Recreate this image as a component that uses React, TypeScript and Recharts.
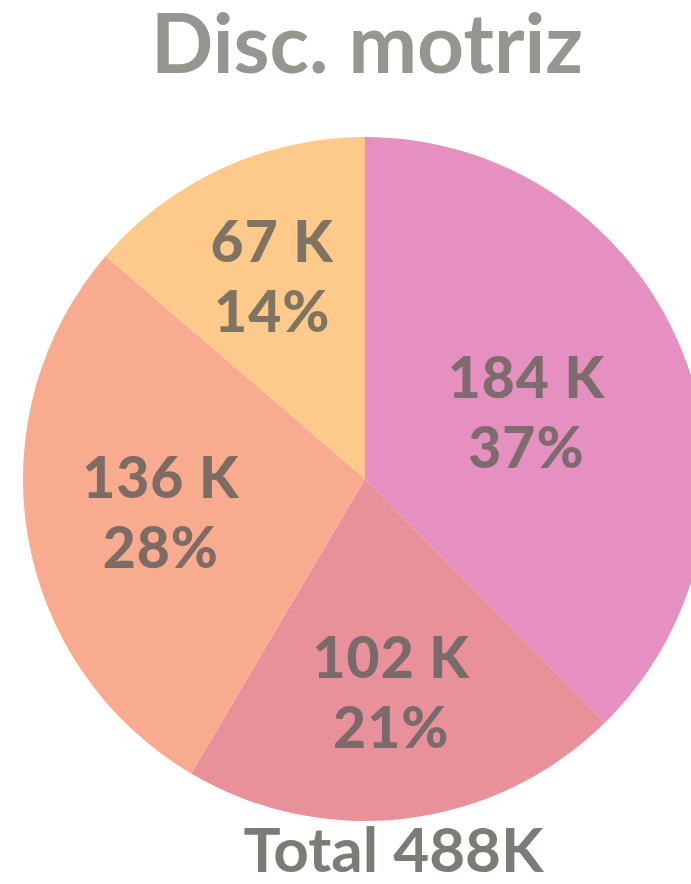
import { Cell, Pie, PieChart } from "recharts"

// Disc. motriz — share of 488K, clockwise from 12 o'clock.
const SEGMENTS = ["184 K", "102 K", "136 K", "67 K"]
const VALUES = [184, 102, 136, 67]
const PERCENTS = ["37%", "21%", "28%", "14%"]
const COLORS = ["#E68FC1", "#E8919B", "#F8AB8E", "#FDCA8B"]
const TEXT_COLORS = ["#7d6b6e", "#7b6a6c", "#7d6c63", "#7f7461"]
// how far out (fraction of radius) each slice's label sits
const LABEL_RADIUS = [0.51, 0.63, 0.605, 0.65]

const TITLE = "Disc. motriz"
const TOTAL = "Total 488K"

const FONT = "Lato, 'DejaVu Sans', sans-serif"
const RAD = Math.PI / 180

const rows = SEGMENTS.map((name, index) => ({
  name,
  value: VALUES[index],
  percent: PERCENTS[index],
}))

function SliceLabel(props: any) {
  const { cx, cy, midAngle, outerRadius, index } = props
  const r = outerRadius * LABEL_RADIUS[index]
  const x = cx + r * Math.cos(-midAngle * RAD)
  const y = cy + r * Math.sin(-midAngle * RAD)
  return (
    <text
      x={x}
      y={y}
      textAnchor="middle"
      fill={TEXT_COLORS[index]}
      fontFamily={FONT}
      fontWeight={900}
      fontSize={57}
      letterSpacing={1}
    >
      <tspan x={x} dy={-15}>
        {rows[index].name}
      </tspan>
      <tspan x={x} dy={70}>
        {rows[index].percent}
      </tspan>
    </text>
  )
}

export default function App() {
  return (
    <div
      style={{
        position: "absolute",
        left: 0,
        top: 0,
        width: 691,
        height: 884,
        overflow: "hidden",
        background: "#fff",
        fontFamily: FONT,
      }}
    >
      <PieChart width={691} height={884} margin={{ top: 0, right: 0, bottom: 0, left: 0 }}>
        <Pie
          data={rows}
          dataKey="value"
          nameKey="name"
          cx={365}
          cy={479}
          outerRadius={342}
          startAngle={90}
          endAngle={-270}
          stroke="none"
          label={SliceLabel}
          labelLine={false}
          isAnimationActive={false}
        >
          {rows.map((_, index) => (
            <Cell key={index} fill={COLORS[index]} />
          ))}
        </Pie>
      </PieChart>
      <div
        style={{
          position: "absolute",
          left: 0,
          top: 0,
          width: 734,
          textAlign: "center",
          fontSize: 82,
          fontWeight: 700,
          color: "#979590",
          lineHeight: "82px",
        }}
      >
        {TITLE}
      </div>
      <div
        style={{
          position: "absolute",
          left: 0,
          top: 817,
          width: 787,
          textAlign: "center",
          fontSize: 62,
          fontWeight: 700,
          color: "#7d7b76",
          lineHeight: "62px",
        }}
      >
        {TOTAL}
      </div>
    </div>
  )
}
